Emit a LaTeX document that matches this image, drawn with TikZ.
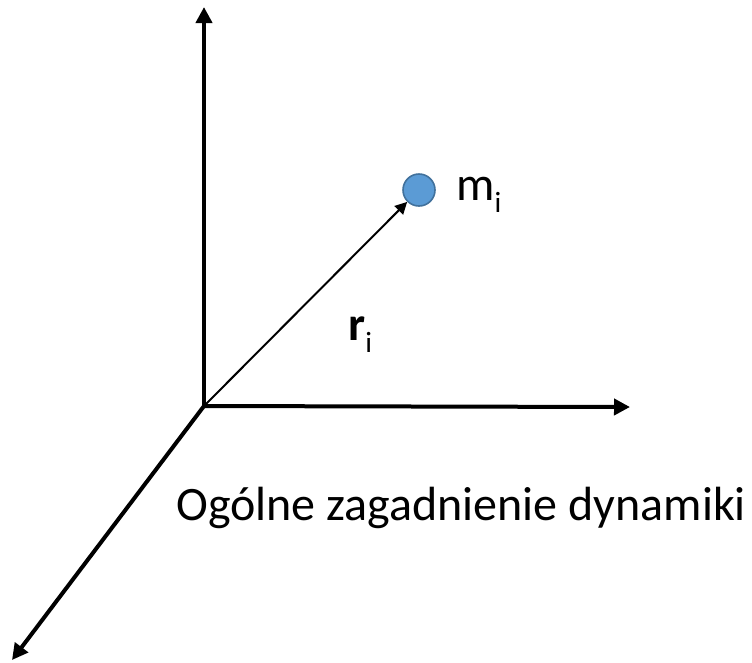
\documentclass[tikz,border=0pt]{standalone}
\usepackage{fontspec}
\setmainfont{Carlito}
\usetikzlibrary{arrows.meta, positioning}
\definecolor{massblue}{HTML}{5B9BD5}
\definecolor{massedge}{HTML}{41719C}
\newcommand{\lowsub}[1]{\raisebox{-9pt}{\fontsize{22}{22}\selectfont #1}}

\begin{document}
\begin{tikzpicture}[x=0.75pt,y=-0.75pt,
        axis/.style={line width=3pt, -{Triangle[length=12pt,width=12pt]}},
        radiusvec/.style={line width=1.5pt, -{Triangle[length=9pt,width=9pt]}},
        masspoint/.style={circle, draw=massedge, fill=massblue, line width=1.2pt,
            minimum size=24pt, inner sep=0pt},
        bigtext/.style={font=\fontsize{36}{40}\selectfont, inner sep=0pt}]
            % Define frame
            \useasboundingbox (0,0) rectangle (752,662);
            \coordinate (origin) at (204,406);
            \coordinate (ztip) at (204,7);
            \coordinate (xtip) at (630,407);
            \coordinate (ytip) at (12,660);
            % Draw the three axes
            \foreach \tip in {ztip,xtip,ytip}
                \draw[axis] (origin) -- (\tip);
            % Mass point and its radius vector
            \node[masspoint] (mass) at (419,190) {};
            \draw[radiusvec] (origin) -- (mass);
            \node[bigtext, anchor=base west] (mlabel) at (456,200) {m\lowsub{i}};
            \node[bigtext, anchor=base west] (rlabel) at (348,340) {\textbf{r}\lowsub{i}};
            % Caption
            \node[bigtext, anchor=base west] (caption) at (176,520) {Ogólne zagadnienie dynamiki};
        \end{tikzpicture}
\end{document}
